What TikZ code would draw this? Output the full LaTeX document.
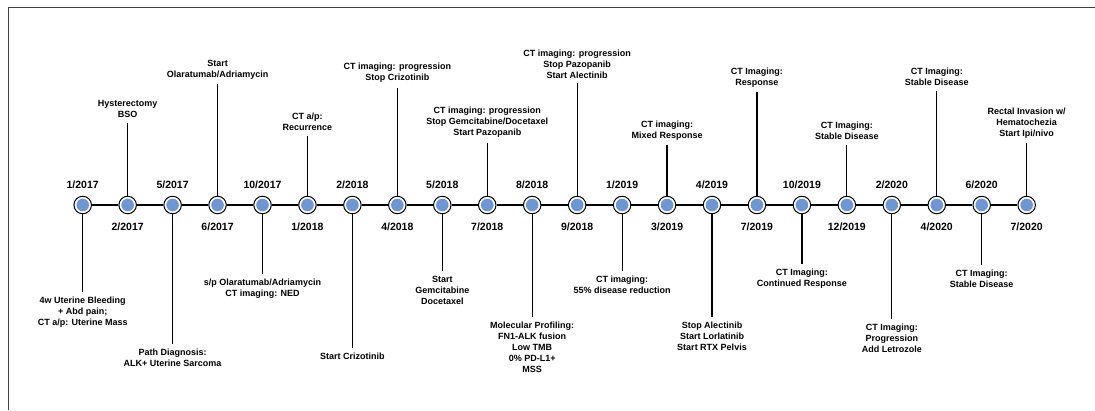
\documentclass[tikz,border=0pt]{standalone}
\usepackage{fontspec}
\setmainfont{Liberation Sans}
\usetikzlibrary{positioning}
\definecolor{dotblue}{RGB}{110,150,210}
\definecolor{framegray}{RGB}{64,64,64}

\begin{document}
\begin{tikzpicture}[x=1pt,y=1pt]
        % Setup the styles for the timeline
        \tikzset{dot style/.style={circle,
                                   minimum size=17.5pt,
                                   inner sep=0pt,
                                   draw=black,
                                   line width=1pt,
                                   fill=white,
                                   path picture={\fill[dotblue] (path picture bounding box.center) circle (6.3pt);}},
                 date style/.style={font=\bfseries\fontsize{10.5}{12}\selectfont, inner sep=0pt},
                 note style/.style={font=\bfseries\fontsize{9}{11}\selectfont, align=center,
                                    inner sep=2.5pt, outer sep=2.5pt},
                 note up/.style={note style, anchor=south},
                 note down/.style={note style, anchor=north},
                 stem/.style={line width=1.2pt}}

        \useasboundingbox (0,0) rectangle (1095,-410);
        \draw[framegray, line width=0.8pt] (1095,-7) -- (8,-7) -- (8,-410);

        % Draw the dots
        \node[dot style] at (82.7, -205)   (d0)  {};
        \node[dot style] at (127.65, -205) (d1)  {};
        \node[dot style] at (172.6, -205)  (d2)  {};
        \node[dot style] at (217.55, -205) (d3)  {};
        \node[dot style] at (262.5, -205)  (d4)  {};
        \node[dot style] at (307.45, -205) (d5)  {};
        \node[dot style] at (352.4, -205)  (d6)  {};
        \node[dot style] at (397.35, -205) (d7)  {};
        \node[dot style] at (442.3, -205)  (d8)  {};
        \node[dot style] at (487.25, -205) (d9)  {};
        \node[dot style] at (532.2, -205)  (d10) {};
        \node[dot style] at (577.15, -205) (d11) {};
        \node[dot style] at (622.1, -205)  (d12) {};
        \node[dot style] at (667.05, -205) (d13) {};
        \node[dot style] at (712, -205)    (d14) {};
        \node[dot style] at (756.95, -205) (d15) {};
        \node[dot style] at (801.9, -205)  (d16) {};
        \node[dot style] at (846.85, -205) (d17) {};
        \node[dot style] at (891.8, -205)  (d18) {};
        \node[dot style] at (936.75, -205) (d19) {};
        \node[dot style] at (981.7, -205)  (d20) {};
        \node[dot style] at (1026.65, -205) (d21) {};

        % Dates
        \node[date style, above=6.5pt of d0]  (t0)  {1/2017};
        \node[date style, below=8pt of d1]    (t1)  {2/2017};
        \node[date style, above=6.5pt of d2]  (t2)  {5/2017};
        \node[date style, below=8pt of d3]    (t3)  {6/2017};
        \node[date style, above=6.5pt of d4]  (t4)  {10/2017};
        \node[date style, below=8pt of d5]    (t5)  {1/2018};
        \node[date style, above=6.5pt of d6]  (t6)  {2/2018};
        \node[date style, below=8pt of d7]    (t7)  {4/2018};
        \node[date style, above=6.5pt of d8]  (t8)  {5/2018};
        \node[date style, below=8pt of d9]    (t9)  {7/2018};
        \node[date style, above=6.5pt of d10] (t10) {8/2018};
        \node[date style, below=8pt of d11]   (t11) {9/2018};
        \node[date style, above=6.5pt of d12] (t12) {1/2019};
        \node[date style, below=8pt of d13]   (t13) {3/2019};
        \node[date style, above=6.5pt of d14] (t14) {4/2019};
        \node[date style, below=8pt of d15]   (t15) {7/2019};
        \node[date style, above=6.5pt of d16] (t16) {10/2019};
        \node[date style, below=8pt of d17]   (t17) {12/2019};
        \node[date style, above=6.5pt of d18] (t18) {2/2020};
        \node[date style, below=8pt of d19]   (t19) {4/2020};
        \node[date style, above=6.5pt of d20] (t20) {6/2020};
        \node[date style, below=8pt of d21]   (t21) {7/2020};

        % Events
        \node[note down] at (82.7, -291.7)   (e0)  {4w Uterine Bleeding\\+ Abd pain;\\CT a/p: Uterine Mass};
        \node[note up]   at (127.65, -122.7) (e1)  {Hysterectomy\\BSO};
        \node[note down] at (172.6, -344)    (e2)  {Path Diagnosis:\\ALK+ Uterine Sarcoma};
        \node[note up]   at (217.55, -84)    (e3)  {Start\\Olaratumab/Adriamycin};
        \node[note down] at (262.5, -274)    (e4)  {s/p Olaratumab/Adriamycin\\CT imaging: NED};
        \node[note up]   at (307.45, -136)   (e5)  {CT a/p:\\Recurrence};
        \node[note down] at (352.4, -348)    (e6)  {Start Crizotinib};
        \node[note up]   at (397.35, -87.7)  (e7)  {CT imaging: progression\\Stop Crizotinib};
        \node[note down] at (442.3, -271)    (e8)  {Start\\Gemcitabine\\Docetaxel};
        \node[note up]   at (487.25, -142.7) (e9)  {CT imaging: progression\\Stop Gemcitabine/Docetaxel\\Start Pazopanib};
        \node[note down] at (532.2, -316.7)  (e10) {Molecular Profiling:\\FN1-ALK fusion\\Low TMB\\0\% PD-L1+\\MSS};
        \node[note up]   at (577.15, -83.3)  (e11) {CT imaging: progression\\Stop Pazopanib\\Start Alectinib};
        \node[note down] at (622.1, -271)    (e12) {CT imaging:\\55\% disease reduction};
        \node[note up]   at (667.05, -145)   (e13) {CT imaging:\\Mixed Response};
        \node[note down] at (712, -317)      (e14) {Stop Alectinib\\Start Lorlatinib\\Start RTX Pelvis};
        \node[note up]   at (756.95, -92)    (e15) {CT Imaging:\\Response};
        \node[note down] at (801.9, -264)    (e16) {CT Imaging:\\Continued Response};
        \node[note up]   at (846.85, -145)   (e17) {CT Imaging:\\Stable Disease};
        \node[note down] at (891.8, -319)    (e18) {CT Imaging:\\Progression\\Add Letrozole};
        \node[note up]   at (936.75, -90.7)  (e19) {CT Imaging:\\Stable Disease};
        \node[note down] at (981.7, -265)    (e20) {CT Imaging:\\Stable Disease};
        \node[note up]   at (1026.65, -143)  (e21) {Rectal Invasion w/\\Hematochezia\\Start Ipi/nivo};

        % Connect the dots along the time line
        \draw[line width=1.3pt]
            (d0) -- (d1) (d1) -- (d2) (d2) -- (d3) (d3) -- (d4) (d4) -- (d5)
            (d5) -- (d6) (d6) -- (d7) (d7) -- (d8) (d8) -- (d9) (d9) -- (d10)
            (d10) -- (d11) (d11) -- (d12) (d12) -- (d13) (d13) -- (d14)
            (d14) -- (d15) (d15) -- (d16) (d16) -- (d17) (d17) -- (d18)
            (d18) -- (d19) (d19) -- (d20) (d20) -- (d21);

        % Stems to the events
        \draw[stem]
            (d0) -- (e0)   (d1) -- (e1)   (d2) -- (e2)   (d3) -- (e3)
            (d4) -- (e4)   (d5) -- (e5)   (d6) -- (e6)   (d7) -- (e7)
            (d8) -- (e8)   (d9) -- (e9)   (d10) -- (e10) (d11) -- (e11)
            (d12) -- (e12) (d13) -- (e13) (d14) -- (e14) (d15) -- (e15)
            (d16) -- (e16) (d17) -- (e17) (d18) -- (e18) (d19) -- (e19)
            (d20) -- (e20) (d21) -- (e21);
\end{tikzpicture}
\end{document}
